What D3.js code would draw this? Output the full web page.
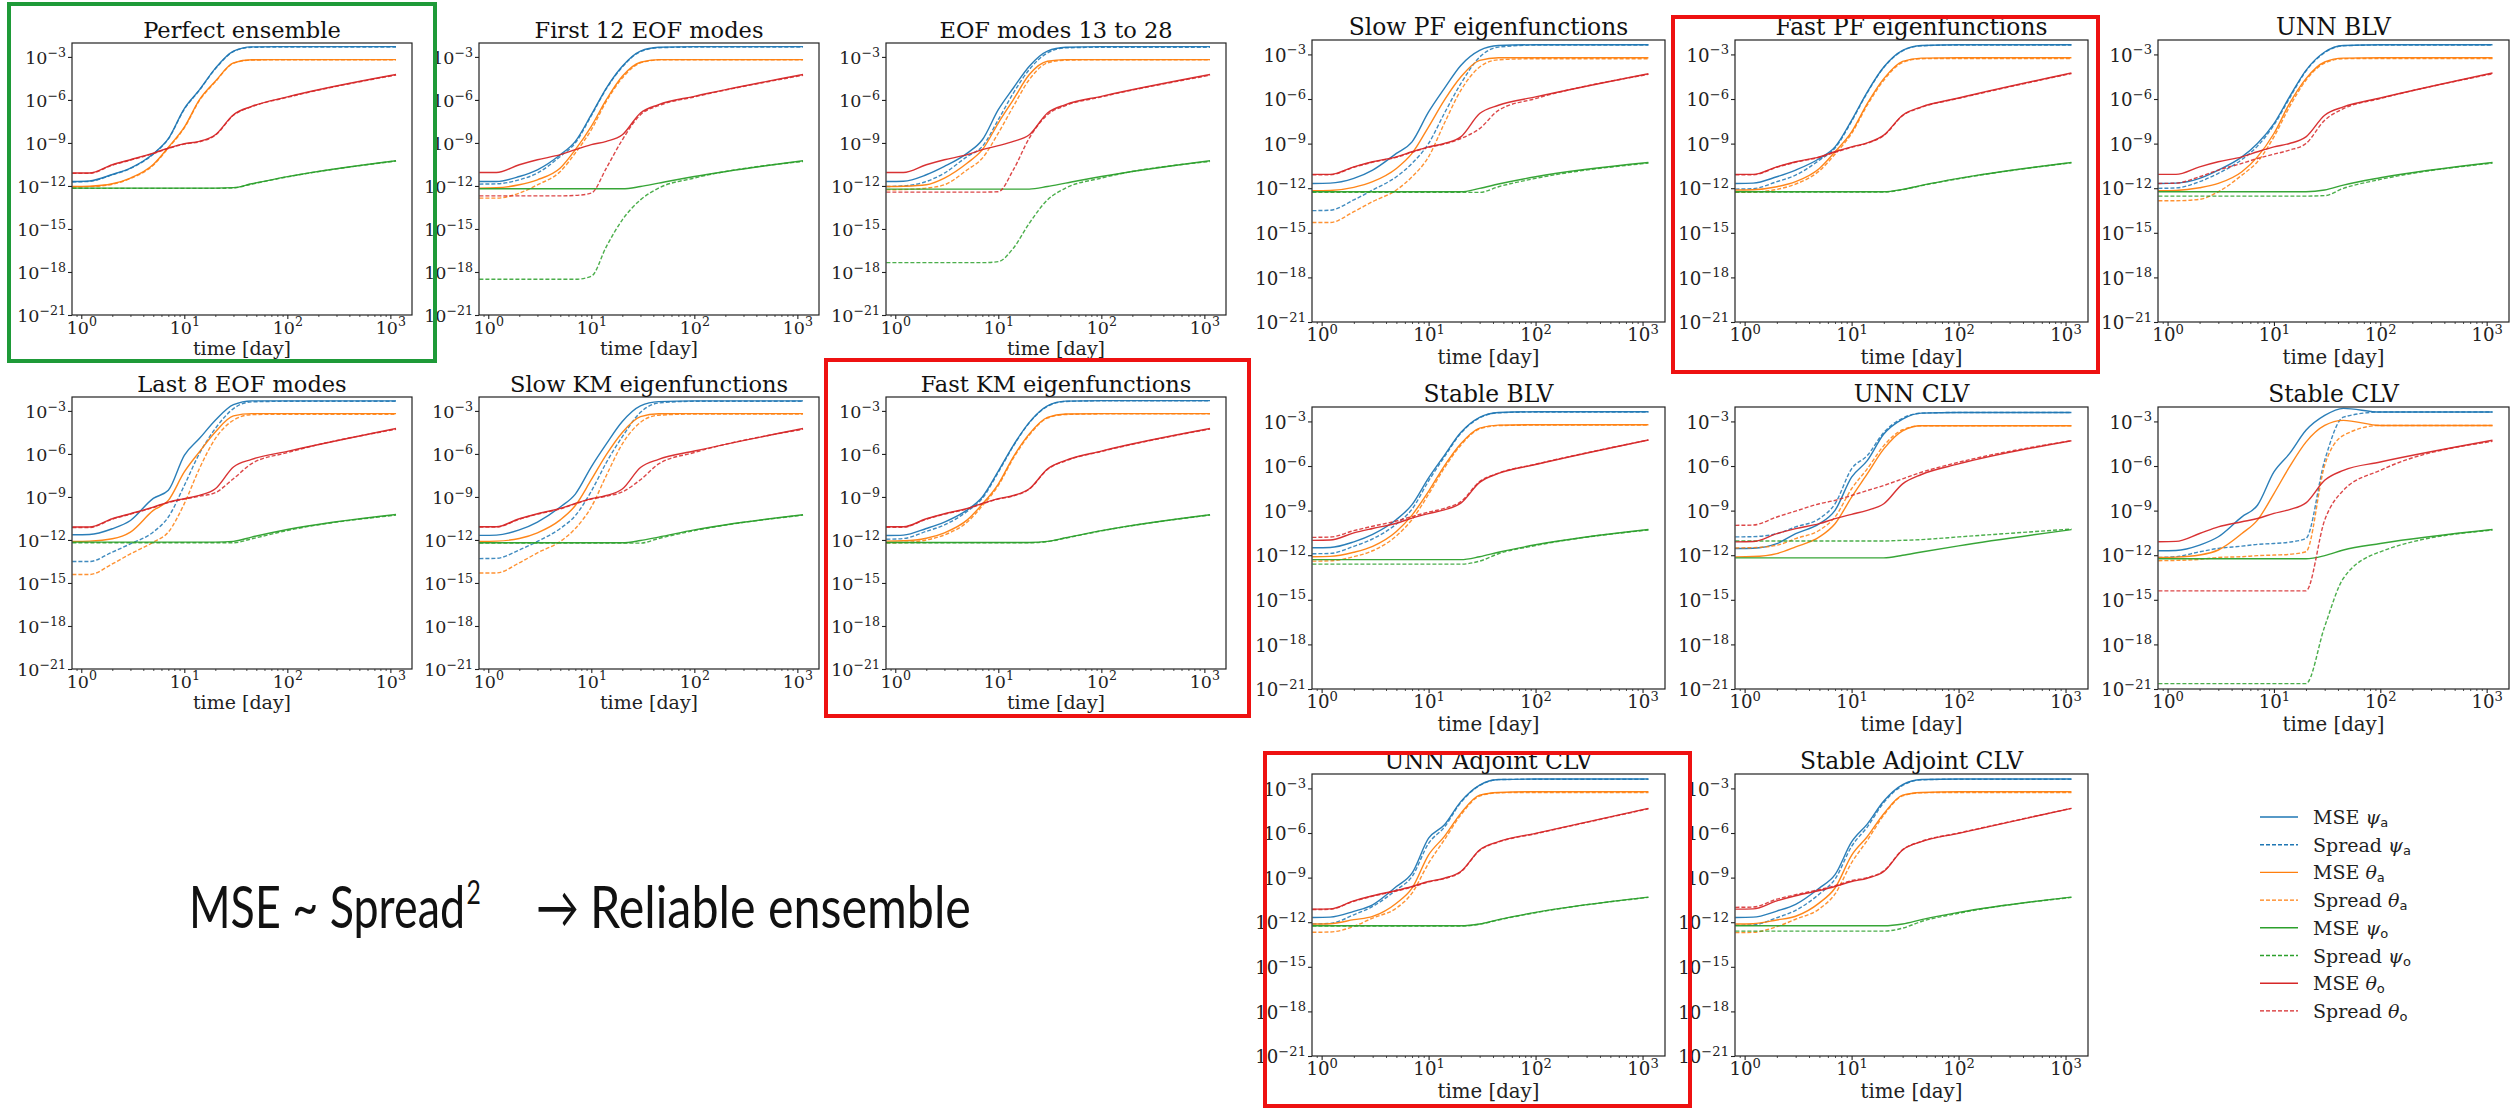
<!DOCTYPE html>
<html>
<head>
<meta charset="utf-8">
<script src="https://cdn.jsdelivr.net/npm/d3@7"></script>
<style>
  body { margin: 0; background: #fff; }
  svg { display: block; }
</style>
</head>
<body>
<script>
// time knots (days) shared by every curve
var times = [0.82, 1.2, 2, 3, 5, 7, 10, 14, 20, 30, 45, 100, 1135];

// series order: MSE psi_a, Spread psi_a, MSE theta_a, Spread theta_a,
//               MSE psi_o, Spread psi_o, MSE theta_o, Spread theta_o
// values are log10 of the error
var perfectEnsemble = [
  [-11.69,-11.65,-11.2,-10.75,-9.75,-8.7,-6.6,-5.3,-3.8,-2.6,-2.3,-2.28,-2.28],
  [-11.72,-11.68,-11.23,-10.78,-9.78,-8.72,-6.65,-5.33,-3.83,-2.63,-2.33,-2.31,-2.31],
  [-12.04,-12.02,-11.85,-11.45,-10.5,-9.3,-7.9,-6.0,-4.7,-3.42,-3.2,-3.19,-3.19],
  [-12.08,-12.05,-11.88,-11.48,-10.55,-9.35,-7.95,-6.05,-4.74,-3.45,-3.22,-3.2,-3.2],
  [-12.15,-12.15,-12.15,-12.15,-12.15,-12.15,-12.15,-12.15,-12.15,-12.12,-11.85,-11.35,-10.24],
  [-12.17,-12.17,-12.17,-12.17,-12.17,-12.17,-12.17,-12.17,-12.17,-12.14,-11.87,-11.37,-10.26],
  [-11.1,-11.1,-10.52,-10.17,-9.71,-9.36,-9.05,-8.89,-8.43,-7.03,-6.45,-5.79,-4.23],
  [-11.12,-11.12,-10.55,-10.2,-9.74,-9.39,-9.08,-8.92,-8.47,-7.07,-6.48,-5.82,-4.26]
];
var first12Eof = [
  [-11.69,-11.69,-11.34,-10.87,-9.82,-8.89,-7.03,-5.17,-3.65,-2.6,-2.33,-2.28,-2.28],
  [-11.87,-11.85,-11.57,-11.1,-9.94,-9.0,-7.1,-5.22,-3.7,-2.63,-2.36,-2.32,-2.32],
  [-12.15,-12.13,-11.92,-11.57,-10.75,-9.47,-7.84,-5.98,-4.35,-3.37,-3.19,-3.19,-3.19],
  [-12.85,-12.85,-12.5,-11.92,-10.99,-9.7,-8.08,-6.1,-4.47,-3.42,-3.21,-3.2,-3.2],
  [-12.2,-12.2,-12.2,-12.2,-12.2,-12.2,-12.2,-12.2,-12.2,-12.04,-11.8,-11.34,-10.24],
  [-18.51,-18.51,-18.51,-18.51,-18.51,-18.51,-18.3,-16.23,-14.36,-12.97,-12.15,-11.45,-10.29],
  [-11.06,-11.06,-10.52,-10.17,-9.82,-9.47,-9.12,-8.89,-8.43,-6.91,-6.33,-5.75,-4.23],
  [-12.69,-12.69,-12.69,-12.69,-12.69,-12.66,-12.5,-10.75,-8.78,-7.03,-6.4,-5.79,-4.28]
];
var eof13to28 = [
  [-11.69,-11.67,-11.22,-10.64,-9.71,-8.78,-6.68,-5.17,-3.65,-2.6,-2.33,-2.28,-2.28],
  [-12.04,-12.0,-11.69,-11.1,-9.94,-9.24,-7.38,-5.52,-3.88,-2.72,-2.37,-2.33,-2.33],
  [-12.04,-12.02,-11.92,-11.45,-10.4,-9.47,-7.61,-5.98,-4.23,-3.3,-3.19,-3.19,-3.19],
  [-12.27,-12.25,-12.15,-11.92,-10.87,-10.06,-8.31,-6.45,-4.58,-3.42,-3.23,-3.2,-3.2],
  [-12.22,-12.22,-12.22,-12.22,-12.22,-12.22,-12.22,-12.22,-12.22,-12.04,-11.8,-11.34,-10.24],
  [-17.35,-17.35,-17.35,-17.35,-17.35,-17.35,-17.28,-16.34,-14.6,-12.97,-12.15,-11.45,-10.29],
  [-11.06,-11.06,-10.52,-10.17,-9.82,-9.47,-9.19,-8.89,-8.43,-6.91,-6.33,-5.75,-4.23],
  [-12.43,-12.43,-12.43,-12.43,-12.43,-12.43,-12.4,-10.87,-8.66,-7.03,-6.4,-5.79,-4.28]
];
var last8Eof = [
  [-11.64,-11.62,-11.22,-10.64,-9.1,-8.54,-6.1,-4.93,-3.65,-2.56,-2.3,-2.3,-2.3],
  [-13.5,-13.5,-12.85,-12.27,-11.45,-10.4,-8.2,-5.98,-4.23,-2.84,-2.37,-2.33,-2.33],
  [-12.1,-12.08,-11.92,-11.45,-9.94,-9.24,-7.26,-5.86,-4.47,-3.35,-3.19,-3.19,-3.19],
  [-14.41,-14.41,-13.67,-12.97,-12.15,-11.45,-9.47,-7.03,-4.93,-3.65,-3.26,-3.23,-3.23],
  [-12.15,-12.15,-12.15,-12.15,-12.15,-12.15,-12.15,-12.15,-12.15,-12.1,-11.8,-11.27,-10.22],
  [-12.2,-12.2,-12.2,-12.2,-12.2,-12.2,-12.2,-12.2,-12.2,-12.2,-11.92,-11.34,-10.27],
  [-11.1,-11.1,-10.52,-10.17,-9.71,-9.36,-9.12,-8.89,-8.43,-6.91,-6.38,-5.82,-4.23],
  [-11.13,-11.13,-10.55,-10.2,-9.74,-9.39,-9.15,-8.95,-8.7,-7.73,-6.68,-5.91,-4.28]
];
var slowKm = [
  [-11.68,-11.66,-11.3,-10.75,-9.7,-8.8,-6.9,-5.3,-3.74,-2.65,-2.35,-2.3,-2.3],
  [-13.3,-13.28,-12.7,-12.1,-11.2,-10.3,-8.6,-6.6,-4.8,-3.1,-2.45,-2.33,-2.33],
  [-12.1,-12.08,-11.9,-11.5,-10.6,-9.6,-7.8,-6.05,-4.5,-3.4,-3.2,-3.19,-3.19],
  [-14.3,-14.3,-13.6,-12.9,-12.1,-11.2,-9.7,-7.5,-5.3,-3.8,-3.3,-3.22,-3.22],
  [-12.2,-12.2,-12.2,-12.2,-12.2,-12.2,-12.2,-12.2,-12.2,-12.04,-11.8,-11.3,-10.24],
  [-12.22,-12.22,-12.22,-12.22,-12.22,-12.22,-12.22,-12.22,-12.22,-12.22,-11.9,-11.35,-10.27],
  [-11.08,-11.08,-10.52,-10.17,-9.8,-9.45,-9.12,-8.9,-8.45,-6.95,-6.38,-5.8,-4.23],
  [-11.1,-11.1,-10.55,-10.2,-9.83,-9.48,-9.15,-8.95,-8.65,-7.8,-6.7,-5.9,-4.28]
];
var fastKm = [
  [-11.69,-11.66,-11.2,-10.75,-9.9,-9.0,-7.2,-5.4,-3.8,-2.65,-2.32,-2.28,-2.28],
  [-11.95,-11.9,-11.4,-10.95,-10.0,-9.1,-7.28,-5.45,-3.83,-2.68,-2.34,-2.3,-2.3],
  [-12.08,-12.06,-11.88,-11.5,-10.6,-9.5,-8.1,-6.2,-4.6,-3.45,-3.22,-3.19,-3.19],
  [-12.2,-12.18,-12.0,-11.65,-10.75,-9.62,-8.2,-6.3,-4.68,-3.5,-3.25,-3.21,-3.21],
  [-12.18,-12.18,-12.18,-12.18,-12.18,-12.18,-12.18,-12.18,-12.18,-12.1,-11.85,-11.35,-10.24],
  [-12.2,-12.2,-12.2,-12.2,-12.2,-12.2,-12.2,-12.2,-12.2,-12.12,-11.87,-11.37,-10.26],
  [-11.08,-11.08,-10.52,-10.17,-9.8,-9.45,-9.12,-8.9,-8.43,-7.05,-6.45,-5.8,-4.23],
  [-11.11,-11.11,-10.55,-10.2,-9.83,-9.48,-9.15,-8.93,-8.46,-7.08,-6.48,-5.83,-4.26]
];
var slowPf = [
  [-11.68,-11.66,-11.34,-10.78,-9.66,-8.88,-6.87,-5.3,-3.74,-2.73,-2.4,-2.35,-2.35],
  [-13.51,-13.48,-12.79,-12.12,-11.23,-10.33,-8.99,-6.98,-4.97,-3.18,-2.51,-2.37,-2.37],
  [-12.17,-12.15,-11.94,-11.56,-10.67,-9.66,-7.87,-6.09,-4.52,-3.4,-3.22,-3.22,-3.22],
  [-14.31,-14.31,-13.58,-12.9,-12.12,-11.23,-9.89,-7.65,-5.42,-3.85,-3.36,-3.29,-3.29],
  [-12.24,-12.24,-12.24,-12.24,-12.24,-12.24,-12.24,-12.24,-12.24,-12.01,-11.72,-11.23,-10.27],
  [-12.28,-12.28,-12.28,-12.28,-12.28,-12.28,-12.28,-12.28,-12.28,-12.28,-11.9,-11.34,-10.31],
  [-11.07,-11.07,-10.56,-10.22,-9.89,-9.55,-9.22,-8.99,-8.55,-6.98,-6.42,-5.86,-4.3],
  [-11.1,-11.1,-10.59,-10.25,-9.92,-9.58,-9.25,-9.03,-8.66,-7.99,-6.76,-5.97,-4.34]
];
var fastPf = [
  [-11.68,-11.66,-11.23,-10.78,-10.0,-9.22,-7.43,-5.53,-3.85,-2.73,-2.4,-2.35,-2.35],
  [-12.06,-12.03,-11.56,-11.12,-10.11,-9.3,-7.5,-5.58,-3.88,-2.76,-2.42,-2.37,-2.37],
  [-12.12,-12.1,-11.9,-11.56,-10.67,-9.55,-8.21,-6.31,-4.63,-3.47,-3.25,-3.22,-3.22],
  [-12.28,-12.26,-12.08,-11.72,-10.83,-9.71,-8.32,-6.42,-4.74,-3.54,-3.29,-3.27,-3.27],
  [-12.24,-12.24,-12.24,-12.24,-12.24,-12.24,-12.24,-12.24,-12.24,-12.08,-11.81,-11.34,-10.27],
  [-12.26,-12.26,-12.26,-12.26,-12.26,-12.26,-12.26,-12.26,-12.26,-12.1,-11.83,-11.36,-10.29],
  [-11.07,-11.07,-10.56,-10.22,-9.89,-9.55,-9.22,-8.95,-8.43,-7.09,-6.53,-5.93,-4.25],
  [-11.1,-11.1,-10.59,-10.25,-9.92,-9.58,-9.25,-8.98,-8.46,-7.12,-6.56,-5.96,-4.28]
];
var unnBlv = [
  [-11.68,-11.66,-11.34,-10.78,-9.89,-8.99,-7.65,-5.86,-4.07,-2.84,-2.4,-2.35,-2.35],
  [-12.01,-11.98,-11.56,-11.0,-10.07,-9.17,-7.75,-5.95,-4.12,-2.88,-2.42,-2.37,-2.37],
  [-12.17,-12.15,-11.97,-11.68,-10.89,-9.89,-8.32,-6.31,-4.63,-3.51,-3.25,-3.22,-3.22],
  [-12.84,-12.84,-12.75,-12.24,-11.12,-10.22,-8.55,-6.53,-4.74,-3.58,-3.29,-3.27,-3.27],
  [-12.24,-12.24,-12.24,-12.24,-12.24,-12.24,-12.24,-12.24,-12.24,-12.12,-11.79,-11.3,-10.27],
  [-12.53,-12.53,-12.53,-12.53,-12.53,-12.53,-12.53,-12.53,-12.53,-12.5,-12.01,-11.41,-10.31],
  [-11.07,-11.07,-10.56,-10.22,-9.89,-9.55,-9.22,-8.99,-8.55,-7.09,-6.53,-5.93,-4.25],
  [-11.68,-11.66,-11.23,-10.78,-10.33,-10.0,-9.71,-9.44,-8.99,-7.43,-6.65,-5.97,-4.3]
];
var stableBlv = [
  [-11.5,-11.48,-11.1,-10.6,-9.6,-8.6,-6.8,-5.3,-3.75,-2.73,-2.4,-2.35,-2.35],
  [-11.9,-11.88,-11.4,-10.9,-9.9,-8.9,-7.0,-5.4,-3.8,-2.76,-2.42,-2.37,-2.37],
  [-12.1,-12.08,-11.8,-11.4,-10.4,-9.3,-7.7,-6.0,-4.5,-3.45,-3.25,-3.22,-3.22],
  [-12.4,-12.38,-12.1,-11.7,-10.7,-9.6,-7.9,-6.15,-4.6,-3.5,-3.28,-3.25,-3.25],
  [-12.3,-12.3,-12.3,-12.3,-12.3,-12.3,-12.3,-12.3,-12.3,-12.1,-11.8,-11.3,-10.27],
  [-12.6,-12.6,-12.6,-12.6,-12.6,-12.6,-12.6,-12.6,-12.6,-12.4,-11.9,-11.35,-10.3],
  [-11.0,-10.98,-10.5,-10.2,-9.85,-9.5,-9.2,-8.95,-8.5,-7.1,-6.5,-5.9,-4.25],
  [-10.8,-10.78,-10.35,-10.05,-9.7,-9.4,-9.1,-8.85,-8.4,-7.05,-6.48,-5.88,-4.25]
];
var unnClv = [
  [-11.55,-11.53,-11.22,-10.55,-9.88,-8.98,-6.75,-5.64,-3.85,-2.84,-2.44,-2.4,-2.4],
  [-10.77,-10.75,-10.55,-10.1,-9.54,-8.54,-6.19,-5.3,-3.74,-2.78,-2.44,-2.4,-2.4],
  [-12.11,-12.09,-11.89,-11.44,-10.77,-9.88,-8.09,-6.53,-4.85,-3.63,-3.29,-3.29,-3.29],
  [-11.51,-11.49,-11.33,-10.88,-10.32,-9.43,-7.53,-6.19,-4.63,-3.56,-3.29,-3.29,-3.29],
  [-12.18,-12.18,-12.18,-12.18,-12.18,-12.18,-12.18,-12.18,-12.18,-12.0,-11.78,-11.37,-10.28],
  [-11.04,-11.04,-11.04,-11.04,-11.04,-11.04,-11.04,-11.04,-11.04,-11.0,-10.95,-10.77,-10.24],
  [-11.1,-11.08,-10.55,-10.21,-9.88,-9.54,-9.25,-8.98,-8.54,-7.2,-6.57,-5.86,-4.3],
  [-9.99,-9.97,-9.43,-9.03,-8.54,-8.31,-7.98,-7.65,-7.31,-6.86,-6.42,-5.75,-4.3]
];
var stableClv = [
  [-11.7,-11.68,-11.32,-10.76,-9.42,-8.64,-6.4,-5.17,-3.6,-2.6,-2.12,-2.37,-2.37],
  [-12.15,-12.1,-11.77,-11.54,-11.39,-11.27,-11.21,-11.12,-10.87,-5.62,-2.71,-2.37,-2.37],
  [-12.15,-12.13,-11.99,-11.65,-10.54,-9.64,-7.85,-6.06,-4.39,-3.27,-2.93,-3.27,-3.27],
  [-12.37,-12.35,-12.28,-12.15,-12.1,-12.03,-11.99,-11.94,-11.77,-5.95,-3.94,-3.27,-3.27],
  [-12.24,-12.24,-12.24,-12.24,-12.24,-12.24,-12.24,-12.24,-12.24,-12.03,-11.65,-11.21,-10.27],
  [-20.64,-20.64,-20.64,-20.64,-20.64,-20.64,-20.64,-20.64,-20.64,-16.8,-13.55,-11.77,-10.31],
  [-11.09,-11.07,-10.54,-10.09,-9.75,-9.53,-9.19,-8.93,-8.48,-6.96,-6.29,-5.73,-4.27],
  [-14.4,-14.4,-14.4,-14.4,-14.4,-14.4,-14.4,-14.4,-14.4,-9.64,-7.63,-6.29,-4.34]
];
var unnAdjClv = [
  [-11.68,-11.66,-11.27,-10.83,-9.6,-8.7,-6.35,-5.46,-3.89,-2.78,-2.4,-2.37,-2.37],
  [-12.12,-12.08,-11.5,-10.94,-9.82,-8.93,-6.69,-5.62,-3.95,-2.8,-2.41,-2.38,-2.38],
  [-12.12,-12.1,-11.83,-11.61,-10.72,-9.71,-7.47,-6.24,-4.68,-3.45,-3.27,-3.22,-3.22],
  [-12.68,-12.66,-12.28,-11.72,-11.05,-10.04,-8.03,-6.47,-4.79,-3.51,-3.29,-3.27,-3.27],
  [-12.24,-12.24,-12.24,-12.24,-12.24,-12.24,-12.24,-12.24,-12.24,-12.12,-11.83,-11.34,-10.31],
  [-12.26,-12.26,-12.26,-12.26,-12.26,-12.26,-12.26,-12.26,-12.26,-12.14,-11.85,-11.36,-10.33],
  [-11.12,-11.1,-10.56,-10.22,-9.87,-9.6,-9.26,-9.04,-8.59,-7.14,-6.58,-6.02,-4.34],
  [-11.15,-11.13,-10.59,-10.25,-9.9,-9.63,-9.29,-9.07,-8.62,-7.17,-6.61,-6.05,-4.37]
];
var stableAdjClv = [
  [-11.68,-11.66,-11.25,-10.8,-9.7,-8.8,-6.6,-5.4,-3.85,-2.75,-2.4,-2.37,-2.37],
  [-12.2,-12.18,-11.7,-11.2,-10.1,-9.1,-6.9,-5.6,-3.95,-2.8,-2.42,-2.38,-2.38],
  [-12.12,-12.1,-11.85,-11.6,-10.7,-9.7,-7.5,-6.25,-4.7,-3.45,-3.27,-3.22,-3.22],
  [-12.7,-12.68,-12.3,-11.8,-11.1,-10.1,-8.0,-6.5,-4.8,-3.5,-3.29,-3.27,-3.27],
  [-12.24,-12.24,-12.24,-12.24,-12.24,-12.24,-12.24,-12.24,-12.24,-12.12,-11.83,-11.34,-10.31],
  [-12.6,-12.6,-12.6,-12.6,-12.6,-12.6,-12.6,-12.6,-12.6,-12.4,-11.95,-11.4,-10.33],
  [-11.12,-11.1,-10.56,-10.22,-9.87,-9.6,-9.26,-9.04,-8.59,-7.14,-6.58,-6.02,-4.34],
  [-11.0,-10.98,-10.45,-10.15,-9.8,-9.55,-9.2,-9.0,-8.55,-7.12,-6.56,-6.0,-4.34]
];

var panelTitles = ["Perfect ensemble", "First 12 EOF modes", "EOF modes 13 to 28",
  "Last 8 EOF modes", "Slow KM eigenfunctions", "Fast KM eigenfunctions",
  "Slow PF eigenfunctions", "Fast PF eigenfunctions", "UNN BLV",
  "Stable BLV", "UNN CLV", "Stable CLV",
  "UNN Adjoint CLV", "Stable Adjoint CLV"];
var panelData = [perfectEnsemble, first12Eof, eof13to28, last8Eof, slowKm, fastKm,
  slowPf, fastPf, unnBlv, stableBlv, unnClv, stableClv, unnAdjClv, stableAdjClv];

var seriesLabels = [["MSE ", "ψ", "a"], ["Spread ", "ψ", "a"], ["MSE ", "θ", "a"], ["Spread ", "θ", "a"],
  ["MSE ", "ψ", "o"], ["Spread ", "ψ", "o"], ["MSE ", "θ", "o"], ["Spread ", "θ", "o"]];
var xTicks = [1, 10, 100, 1000];
var xTickExp = ["0", "1", "2", "3"];
var yTicks = [1e-3, 1e-6, 1e-9, 1e-12, 1e-15, 1e-18, 1e-21];
var yTickExp = ["−3", "−6", "−9", "−12", "−15", "−18", "−21"];

// layout: [left, top, width, height, font scale]
var panelBoxes = [
  [72, 43, 340, 272, 1], [479, 43, 340, 272, 1], [886, 43, 340, 272, 1],
  [72, 397, 340, 272, 1], [479, 397, 340, 272, 1], [886, 397, 340, 272, 1],
  [1312, 40, 353, 282, 1.04], [1735, 40, 353, 282, 1.04], [2158, 40, 351, 282, 1.04],
  [1312, 407, 353, 282, 1.04], [1735, 407, 353, 282, 1.04], [2158, 407, 351, 282, 1.04],
  [1312, 774, 353, 282, 1.04], [1735, 774, 353, 282, 1.04]
];
var colors = ["#1f77b4", "#1f77b4", "#ff7f0e", "#ff7f0e", "#2ca02c", "#2ca02c", "#d62728", "#d62728"];
var serif = "DejaVu Serif";

var w = 2510;
var h = 1108;

var svg = d3.select("body")
            .append("svg")
            .attr("width", w)
            .attr("height", h);

svg.append("rect").attr("width", w).attr("height", h).attr("fill", "#fff");

var xMinor = [0.9];
[1, 10, 100].forEach(function(dec){
  for (var k = 2; k <= 9; k++) xMinor.push(k * dec);
});

function powLabel(sel, exp, size){
  sel.append("tspan").attr("font-size", size).text("10");
  sel.append("tspan").attr("font-size", size * 0.72).attr("dy", -size * 0.42).text(exp);
}

panelData.forEach(function(rows, p){
  var b = panelBoxes[p];
  var px = b[0], py = b[1], pw = b[2], ph = b[3], fs = b[4];

  var x = d3.scaleLog().domain([Math.pow(10, -0.09), Math.pow(10, 3.21)]).range([px, px + pw]);
  var y = d3.scaleLog().domain([1e-21, Math.pow(10, -2.03)]).range([py + ph, py]);

  var g = svg.append("g");

  var line = d3.line()
               .x(function(d){ return x(d[0]); })
               .y(function(d){ return y(Math.pow(10, d[1])); })
               .curve(d3.curveMonotoneX);

  rows.forEach(function(vals, i){
    g.append("path")
     .attr("d", line(vals.map(function(v, j){ return [times[j], v]; })))
     .attr("fill", "none")
     .attr("stroke", colors[i])
     .attr("stroke-width", 1.4)
     .attr("stroke-opacity", i % 2 ? 0.85 : 0.95)
     .attr("stroke-dasharray", i % 2 ? "4,2" : null);
  });

  // x axis
  var gx = g.append("g")
            .attr("transform", "translate(0," + (py + ph) + ")")
            .call(d3.axisBottom(x).tickValues(xTicks).tickSize(4).tickSizeOuter(0).tickFormat(""));
  gx.select(".domain").remove();
  gx.selectAll(".tick line").attr("stroke", "#222").attr("stroke-width", 1.1);
  gx.selectAll(".tick text").remove();
  gx.selectAll(".tick").append("text")
    .attr("text-anchor", "middle")
    .attr("y", 18.5 * fs)
    .attr("font-family", serif)
    .attr("fill", "#222")
    .each(function(d, i){ powLabel(d3.select(this), xTickExp[i], 17.5 * fs); });

  var gm = g.append("g")
            .attr("transform", "translate(0," + (py + ph) + ")")
            .call(d3.axisBottom(x).tickValues(xMinor).tickSize(2).tickSizeOuter(0).tickFormat(""));
  gm.select(".domain").remove();
  gm.selectAll(".tick line").attr("stroke", "#222").attr("stroke-width", 0.8);

  // y axis
  var gy = g.append("g")
            .attr("transform", "translate(" + px + ",0)")
            .call(d3.axisLeft(y).tickValues(yTicks).tickSize(4).tickSizeOuter(0).tickFormat(""));
  gy.select(".domain").remove();
  gy.selectAll(".tick line").attr("stroke", "#222").attr("stroke-width", 1.1);
  gy.selectAll(".tick text").remove();
  gy.selectAll(".tick").append("text")
    .attr("text-anchor", "end")
    .attr("x", -6)
    .attr("y", 6.5 * fs)
    .attr("font-family", serif)
    .attr("fill", "#222")
    .each(function(d, i){ powLabel(d3.select(this), yTickExp[i], 17.5 * fs); });

  // frame
  g.append("rect")
   .attr("x", px).attr("y", py).attr("width", pw).attr("height", ph)
   .attr("fill", "none").attr("stroke", "#222").attr("stroke-width", 1.2);

  g.append("text")
   .attr("x", px + pw / 2).attr("y", py - 5 * fs)
   .attr("text-anchor", "middle")
   .attr("font-family", serif).attr("font-size", 22.5 * fs)
   .attr("fill", "#111")
   .text(panelTitles[p]);

  g.append("text")
   .attr("x", px + pw / 2).attr("y", py + ph + 40 * fs)
   .attr("text-anchor", "middle")
   .attr("font-family", serif).attr("font-size", 19 * fs)
   .attr("fill", "#222")
   .text("time [day]");
});

// highlight boxes
svg.append("rect").attr("x", 9).attr("y", 4).attr("width", 426).attr("height", 357)
   .attr("fill", "none").attr("stroke", "#1e9a38").attr("stroke-width", 4);
[[1673, 17, 425, 355], [826, 360, 423, 356], [1265, 753, 425, 353]].forEach(function(r){
  svg.append("rect").attr("x", r[0]).attr("y", r[1]).attr("width", r[2]).attr("height", r[3])
     .attr("fill", "none").attr("stroke", "#ee1111").attr("stroke-width", 4);
});

// legend
seriesLabels.forEach(function(lab, i){
  var ly = 817 + i * 27.7;
  svg.append("line")
     .attr("x1", 2260).attr("x2", 2298).attr("y1", ly).attr("y2", ly)
     .attr("stroke", colors[i]).attr("stroke-width", 1.4)
     .attr("stroke-dasharray", i % 2 ? "4,2" : null);
  var t = svg.append("text")
             .attr("x", 2313).attr("y", ly + 7)
             .attr("font-family", serif).attr("font-size", 19).attr("fill", "#222");
  t.append("tspan").text(lab[0]);
  t.append("tspan").attr("font-style", "italic").text(lab[1]);
  t.append("tspan").attr("font-family", "DejaVu Sans").attr("font-size", 13).attr("dy", 3).text(lab[2]);
});

// annotation: each piece is squeezed horizontally to the width it has in the reference
function notePiece(x0, width, build){
  var g = svg.append("g");
  var t = g.append("text").attr("font-family", "Lato").attr("font-size", 58).attr("fill", "#111");
  build(t);
  var natural = t.node().getBBox().width;
  var s = natural > 0 ? width / natural : 1;
  g.attr("transform", "translate(" + x0 + ",928) scale(" + s + ",1)");
}
notePiece(189, 292, function(t){
  t.append("tspan").text("MSE ~ Spread");
  t.append("tspan").attr("font-size", 32).attr("dx", 2).attr("dy", -24).text("2");
});
notePiece(536, 43, function(t){ t.text("→"); });
notePiece(590, 381, function(t){ t.text("Reliable ensemble"); });
</script>
</body>
</html>
